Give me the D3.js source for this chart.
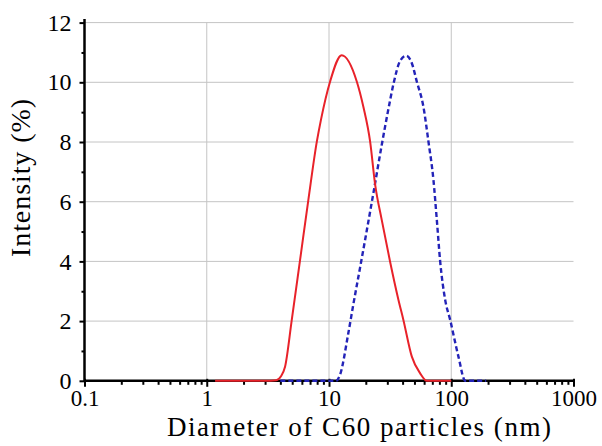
<!DOCTYPE html>
<html><head><meta charset="utf-8">
<script src="https://cdn.jsdelivr.net/npm/d3@7"></script>
<style>body{margin:0;background:#fff}svg{display:block}</style>
</head><body><svg id="c" width="602" height="446"></svg>
<script>
const xTickValues = [0.1, 1, 10, 100, 1000];
const xTickLabels = ["0.1", "1", "10", "100", "1000"];
const yTickValues = [0, 2, 4, 6, 8, 10, 12];
const yMinorValues = [1, 3, 5, 7, 9, 11];
const xTitle = "Diameter of C60 particles (nm)";
const yTitle = "Intensity (%)";

const redDiameter  = [1.17, 3.0, 3.7, 4.05, 4.37, 4.96, 5.80, 6.78, 7.95, 8.6, 10.2, 12.7, 16.9, 19.1, 21.7, 23.8, 27.0, 31.6, 37.0, 40.6, 47.6, 55.7, 63.1, 100];
const redIntensity = [0, 0, 0.02, 0.15, 0.47, 2.04, 4.05, 6.06, 8.01, 8.75, 10.02, 10.91, 10.02, 9.18, 8.01, 6.6, 5.39, 3.99, 2.71, 2.04, 0.81, 0.25, 0, 0];

const blueDiameter  = [4.0, 11.4, 12.3, 14.4, 15.8, 17.97, 20.4, 23.1, 27.0, 30.6, 33.7, 38.2, 42.8, 47.6, 52.3, 59.2, 65.1, 71.5, 76.2, 81.2, 89.2, 98, 114.5, 130, 193];
const blueIntensity = [0, 0, 0.2, 1.6, 2.55, 3.8, 5.05, 6.3, 7.9, 9.1, 9.95, 10.72, 10.89, 10.64, 10.02, 9.18, 8.01, 6.73, 5.39, 3.99, 2.71, 2.04, 0.81, 0, 0];

const svg = d3.select("#c");
const font = "'Liberation Serif', 'Times New Roman', serif";
const x = d3.scaleLog().domain([0.1, 1000]).range([84.5, 573.5]);
const y = d3.scaleLinear().domain([0, 12]).range([380.8, 22.6]);

// grid
const grid = svg.append("g").attr("stroke", "#c4c4c4").attr("stroke-width", 1);
grid.selectAll("line.h").data(yTickValues.filter(v => v > 0)).join("line")
  .attr("x1", x(0.1)).attr("x2", x(1000)).attr("y1", d => y(d)).attr("y2", d => y(d));
grid.selectAll("line.v").data([1, 10, 100]).join("line")
  .attr("y1", y(0)).attr("y2", y(12)).attr("x1", d => x(d)).attr("x2", d => x(d));

// x minor ticks
const xMinor = [];
[0.1, 1, 10, 100].forEach(dec => { for (let k = 2; k <= 9; k++) xMinor.push(k * dec); });

const gxMinor = svg.append("g").attr("transform", `translate(0,${y(0)})`)
  .call(d3.axisBottom(x).tickValues(xMinor).tickSize(4).tickFormat("").tickSizeOuter(0));
gxMinor.select(".domain").remove();
gxMinor.selectAll("text").remove();
gxMinor.selectAll("line").attr("stroke-width", 2);

const gx = svg.append("g").attr("transform", `translate(0,${y(0)})`)
  .call(d3.axisBottom(x).tickValues(xTickValues).tickSize(6).tickPadding(3)
    .tickFormat((d, i) => xTickLabels[i]).tickSizeOuter(0));
gx.select(".domain").remove();
gx.selectAll(".tick line").attr("y1", -2).attr("stroke-width", 2);
gx.selectAll("text").attr("font-family", font).attr("font-size", 23).attr("fill", "#000");

// y ticks
const gyMinor = svg.append("g").attr("transform", `translate(${x(0.1)},0)`)
  .call(d3.axisLeft(y).tickValues(yMinorValues).tickSize(3).tickFormat("").tickSizeOuter(0));
gyMinor.select(".domain").remove();
gyMinor.selectAll("text").remove();
gyMinor.selectAll("line").attr("stroke-width", 2);

const gy = svg.append("g").attr("transform", `translate(${x(0.1)},0)`)
  .call(d3.axisLeft(y).tickValues(yTickValues).tickSize(5).tickPadding(8).tickSizeOuter(0));
gy.select(".domain").remove();
gy.selectAll(".tick line").attr("stroke-width", 2);
gy.selectAll("text").attr("font-family", font).attr("font-size", 24).attr("fill", "#000");

// axis lines
svg.append("line").attr("x1", x(0.1)).attr("x2", x(1000)).attr("y1", y(0)).attr("y2", y(0))
  .attr("stroke", "#000").attr("stroke-width", 2.5);
svg.append("line").attr("x1", x(0.1)).attr("x2", x(0.1)).attr("y1", y(0) + 1).attr("y2", y(12) - 3.5)
  .attr("stroke", "#000").attr("stroke-width", 2.5);

// curves
const line = d3.line().x(d => x(d[0])).y(d => y(d[1])).curve(d3.curveMonotoneX);
const blueData = blueDiameter.map((d, i) => [d, blueIntensity[i]]);
const redData = redDiameter.map((d, i) => [d, redIntensity[i]]);

svg.append("path").datum(blueData).attr("d", line).attr("fill", "none")
  .attr("stroke", "#2323b8").attr("stroke-width", 2.4).attr("stroke-dasharray", "5,3");
svg.append("path").datum(redData).attr("d", line).attr("fill", "none")
  .attr("stroke", "#e8222a").attr("stroke-width", 2);

// titles
svg.append("text").attr("x", 359).attr("y", 436).attr("text-anchor", "middle")
  .attr("font-family", font).attr("font-size", 27).attr("fill", "#000")
  .attr("textLength", 384).attr("lengthAdjust", "spacing").text(xTitle);
svg.append("text").attr("transform", "translate(30,178) rotate(-90)").attr("text-anchor", "middle")
  .attr("font-family", font).attr("font-size", 28).attr("fill", "#000")
  .attr("textLength", 158).attr("lengthAdjust", "spacing").text(yTitle);
</script></body></html>
